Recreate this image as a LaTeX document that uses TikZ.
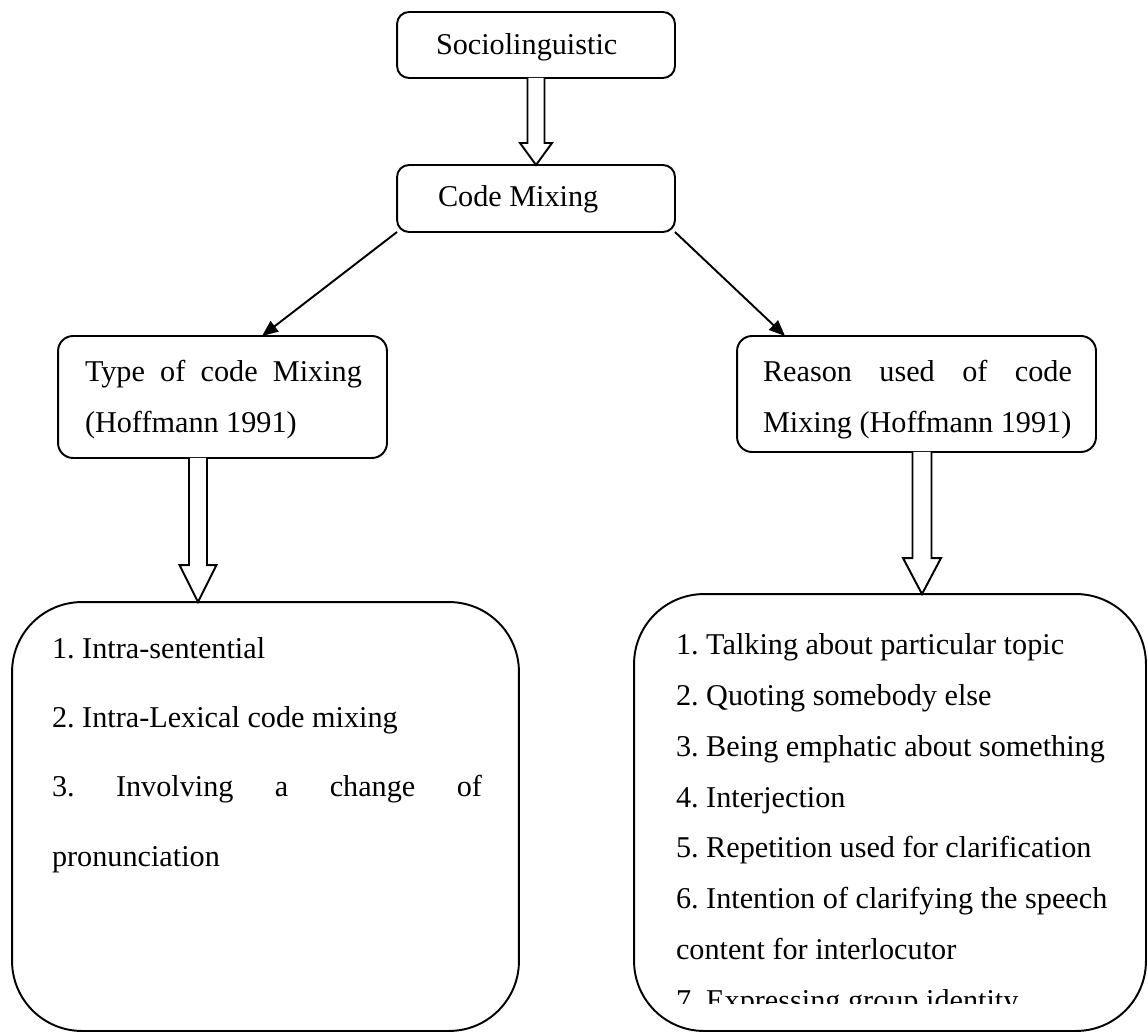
\documentclass[tikz,border=0pt]{standalone}
\usepackage{fontspec}
\setmainfont{Liberation Serif}
\usetikzlibrary{arrows.meta,calc}
\frenchspacing
\newcommand\hollowarrow[5]{%
  \draw[hollow] ($(#1)+(-#3,0)$) -- ($(#2)+(-#3,-#5)$) -- ($(#2)+(-#4,-#5)$) -- (#2)
    -- ($(#2)+(#4,-#5)$) -- ($(#2)+(#3,-#5)$) -- ($(#1)+(#3,0)$);}
\begin{document}
\begin{tikzpicture}[x=0.02cm,y=-0.02cm,
  every node/.style={font=\fontsize{17.2}{20}\selectfont\frenchspacing},
  box/.style={draw, line width=1.1pt, inner sep=0pt, outer sep=0pt},
  txt/.style={anchor=base west, inner sep=0pt, outer sep=0pt},
  link/.style={line width=1.1pt, -{Triangle[length=0.32cm,width=0.26cm]}},
  hollow/.style={draw, line width=1.1pt, fill=white, line join=miter}]
\useasboundingbox (0,0) rectangle (1148,1034);

% boxes
\node[box, rounded corners=0.24cm, minimum width=5.56cm, minimum height=1.32cm] (soc) at (536,45) {};
\node[box, rounded corners=0.24cm, minimum width=5.56cm, minimum height=1.34cm] (cm) at (536,198.5) {};
\node[box, rounded corners=0.3cm, minimum width=6.58cm, minimum height=2.44cm] (type) at (222.5,397) {};
\node[box, rounded corners=0.3cm, minimum width=7.18cm, minimum height=2.32cm] (reason) at (916.5,394) {};
\node[box, rounded corners=1.4cm, minimum width=10.14cm, minimum height=8.58cm] (lbox) at (265.5,816.5) {};
\node[box, rounded corners=1.4cm, minimum width=10.24cm, minimum height=8.74cm] (rbox) at (890,812.5) {};

% texts
\node[txt] (tsoc) at (436,55) {Sociolinguistic};
\node[txt] (tcm) at (438,206) {Code Mixing};
\node[txt] (ty1) at (85,381) {\makebox[5.54cm][s]{Type of code Mixing}};
\node[txt] (ty2) at (85,432) {(Hoffmann 1991)};
\node[txt] (re1) at (763,381) {\makebox[6.18cm][s]{Reason used of code}};
\node[txt] (re2) at (763,432) {Mixing (Hoffmann 1991)};

\node[txt] (l1) at (52,658) {1. Intra-sentential};
\node[txt] (l2) at (52,727) {2. Intra-Lexical code mixing};
\node[txt] (l3) at (52,796) {\makebox[8.6cm][s]{3. Involving a change of}};
\node[txt] (l4) at (52,866) {pronunciation};

\node[txt] (r1) at (676,654) {1. Talking about particular topic};
\node[txt] (r2) at (676,705) {2. Quoting somebody else};
\node[txt] (r3) at (676,756) {3. Being emphatic about something};
\node[txt] (r4) at (676,807) {4. Interjection};
\node[txt] (r5) at (676,857) {5. Repetition used for clarification};
\node[txt] (r6) at (676,908) {6. Intention of clarifying the speech};
\node[txt] (r6b) at (676,959) {content for interlocutor};
\begin{scope}
  \clip (600,0) rectangle (1148,1003);
  \node[txt] (r7) at (676,1010) {7. Expressing group identity};
\end{scope}

% connectors
\hollowarrow{soc.south}{cm.north}{8.5}{16}{22}
\coordinate (la) at ([xshift=-0.49cm]type.south);
\coordinate (lb) at (la |- lbox.north);
\hollowarrow{la}{lb}{9}{18.5}{37}
\coordinate (ra) at ([xshift=0.11cm]reason.south);
\coordinate (rb) at (ra |- rbox.north);
\hollowarrow{ra}{rb}{9.5}{19}{36}

\draw[link] (cm.south west) -- ([xshift=0.79cm]type.north);
\draw[link] (cm.south east) -- ([xshift=-2.63cm]reason.north);
\end{tikzpicture}
\end{document}
